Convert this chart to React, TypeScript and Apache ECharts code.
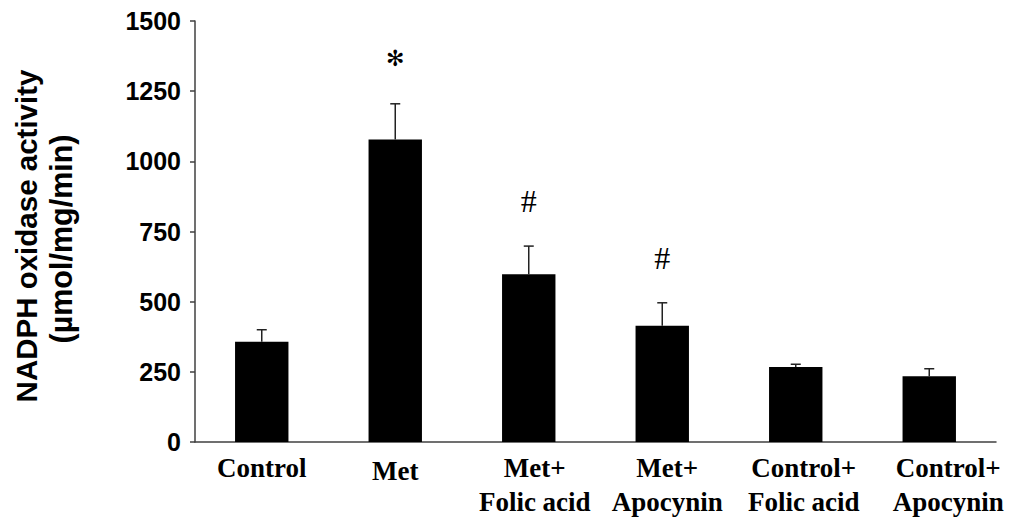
import React, { useEffect, useRef } from "react";
import * as echarts from "echarts";

// Treatment groups and measured NADPH oxidase activity (mean ± SE)
const groups = [
  "Control",
  "Met",
  "Met+\nFolic acid",
  "Met+\nApocynin",
  "Control+\nFolic acid",
  "Control+\nApocynin",
];
const means = [357, 1078, 598, 414, 267, 234];
const errors = [43, 127, 100, 82, 10, 27];
const marks = ["", "✻", "#", "#", "", ""];
const yTicks = [0, 250, 500, 750, 1000, 1250, 1500];

// small per-label nudges (horizontal shift, extra top space) for the category texts
const labelShift = [0, 0, 6, 5, 8, 19];
const labelDrop = [0, 5, 0, 0, 0, 0];

const SANS = "'Liberation Sans', Arial, sans-serif";
const SERIF = "'Liberation Serif', 'Times New Roman', serif";

export default function App() {
  const ref = useRef<HTMLDivElement>(null);

  useEffect(() => {
    if (!ref.current) return;
    const chart = echarts.init(ref.current, null, { renderer: "svg" });

    const rich: Record<string, any> = {};
    labelShift.forEach((s, i) => {
      rich["s" + i] = {
        fontFamily: SERIF,
        fontWeight: "bold",
        fontSize: 27,
        color: "#000",
        lineHeight: 34,
        padding: [labelDrop[i], s < 0 ? -2 * s : 0, 0, s > 0 ? 2 * s : 0],
      };
    });

    chart.setOption({
      animation: false,
      backgroundColor: "#fff",
      grid: { left: 195, right: 13, top: 21, bottom: 75, containLabel: false },
      xAxis: {
        type: "category",
        data: groups,
        axisLine: { show: true, lineStyle: { color: "#404040", width: 1.5 } },
        axisTick: { show: false },
        axisLabel: {
          margin: 9,
          interval: 0,
          formatter: (v: string, idx: number) =>
            v
              .split("\n")
              .map((line) => `{s${idx}|${line}}`)
              .join("\n"),
          rich,
        },
      },
      yAxis: {
        type: "value",
        min: yTicks[0],
        max: yTicks[yTicks.length - 1],
        interval: yTicks[1] - yTicks[0],
        splitLine: { show: false },
        axisLine: { show: true, lineStyle: { color: "#404040", width: 1.5 } },
        axisTick: { show: true, length: 5, lineStyle: { color: "#404040", width: 1.5 } },
        axisLabel: {
          margin: 14,
          fontFamily: SANS,
          fontWeight: "bold",
          fontSize: 25,
          color: "#000",
          formatter: (v: number) => String(v),
        },
      },
      graphic: [
        {
          type: "text",
          x: 26,
          y: 236,
          rotation: Math.PI / 2,
          style: {
            text: "NADPH oxidase activity",
            font: `bold 29.5px ${SANS}`,
            fill: "#000",
            align: "center",
            verticalAlign: "middle",
          },
        },
        {
          type: "text",
          x: 61,
          y: 239,
          rotation: Math.PI / 2,
          style: {
            text: "(µmol/mg/min)",
            font: `bold 30.5px ${SANS}`,
            fill: "#000",
            align: "center",
            verticalAlign: "middle",
          },
        },
      ],
      series: [
        {
          type: "bar",
          data: means,
          barWidth: "40%",
          itemStyle: { color: "#000" },
        },
        {
          type: "custom",
          data: means.map((m, i) => [i, m, errors[i]]),
          z: 3,
          renderItem: (params: any, api: any) => {
            const i = api.value(0);
            const m = api.value(1);
            const e = api.value(2);
            const base = api.coord([i, m]);
            const top = api.coord([i, m + e]);
            const cap = 5;
            const children: any[] = [
              {
                type: "line",
                shape: { x1: base[0], y1: base[1], x2: top[0], y2: top[1] },
                style: { stroke: "#222", lineWidth: 1.5 },
              },
              {
                type: "line",
                shape: { x1: top[0] - cap, y1: top[1], x2: top[0] + cap, y2: top[1] },
                style: { stroke: "#222", lineWidth: 1.5 },
              },
            ];
            const mark = marks[params.dataIndex];
            if (mark) {
              const star = mark !== "#";
              children.push({
                type: "text",
                x: top[0],
                y: top[1] - 45,
                style: {
                  text: mark,
                  font: star ? `22px 'DejaVu Sans', sans-serif` : `32px ${SERIF}`,
                  fill: "#000",
                  align: "center",
                  verticalAlign: "middle",
                },
              });
            }
            return { type: "group", children };
          },
        },
      ],
    });

    return () => chart.dispose();
  }, []);

  return (
    <div
      ref={ref}
      style={{ position: "fixed", left: 0, top: 0, width: 1009, height: 517 }}
    />
  );
}
